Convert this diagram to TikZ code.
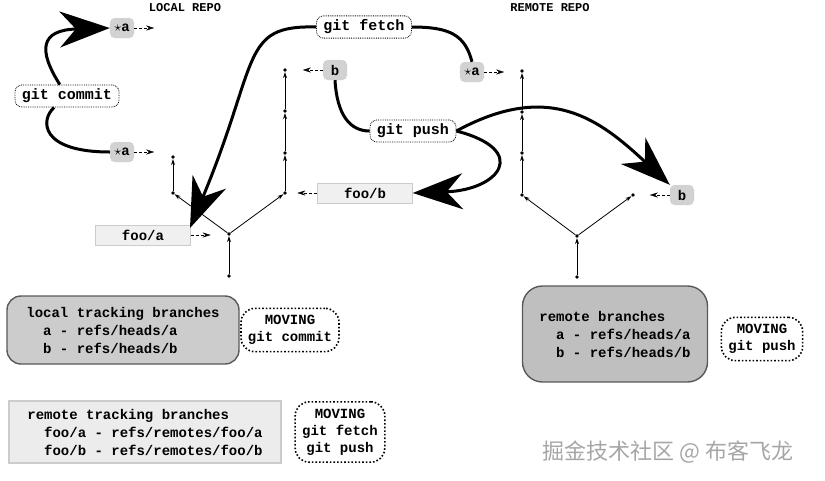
\documentclass[tikz,border=0pt]{standalone}
\usepackage{fontspec}
\setmonofont{Liberation Mono}
\newfontfamily\cjk{Noto Sans CJK SC}
\usetikzlibrary{arrows.meta}

\begin{document}
\begin{tikzpicture}[x=1pt,y=-1pt,
  dot/.style={circle, fill=black, inner sep=1.3pt},
  edge/.style={-{Stealth[length=6pt,width=4pt]}, thick},
  ptr/.style={-{Stealth[length=8pt,width=5pt]}, densely dashed},
  ref/.style={rounded corners=5pt, fill=gray!35, draw=gray!50, densely dotted, font=\ttfamily\bfseries\fontsize{14}{16}\selectfont, minimum height=20pt, minimum width=24pt},
  rem/.style={fill=gray!12, draw=gray!40, font=\ttfamily\bfseries\fontsize{14}{16}\selectfont, minimum height=20pt, minimum width=95pt},
  cmd/.style={rounded corners=7pt, draw, densely dotted, thick, fill=white, font=\ttfamily\bfseries\fontsize{15}{17}\selectfont, inner xsep=7pt, inner ysep=4pt},
  move/.style={rounded corners=14pt, draw, dotted, line width=1.6pt, font=\ttfamily\bfseries\fontsize{14}{17}\selectfont, align=center, inner sep=7pt},
  info/.style={font=\ttfamily\bfseries\fontsize{14}{18}\selectfont, align=left, inner sep=8pt},
  big/.style={line width=3pt, -{Stealth[length=50pt,width=36pt,inset=16pt]}},
  thk/.style={line width=3pt}]

\useasboundingbox (0,0) rectangle (825,480);

% Titles
\node[font=\ttfamily\bfseries\fontsize{12}{14}\selectfont] (ltitle) at (185,8) {LOCAL REPO};
\node[font=\ttfamily\bfseries\fontsize{12}{14}\selectfont] (rtitle) at (550,8) {REMOTE REPO};

% Local commit graph
\foreach \n/\p in {l0/{(229,276)}, l1/{(229,234)}, la1/{(173,193)}, la2/{(173,157)},
                   lb1/{(285,193)}, lb2/{(285,153)}, lb3/{(285,111)}, lb4/{(285,70)}}
  \node[dot] (\n) at \p {};
\foreach \a/\b in {l0/l1, l1/la1, la1/la2, l1/lb1, lb1/lb2, lb2/lb3, lb3/lb4}
  \draw[edge] (\a) -- (\b);

% Remote commit graph
\foreach \n/\p in {r0/{(577,277)}, r1/{(577,236)}, ra1/{(522,195)}, ra2/{(522,153)},
                   ra3/{(522,112)}, ra4/{(522,71)}, rb1/{(633,195)}}
  \node[dot] (\n) at \p {};
\foreach \a/\b in {r0/r1, r1/ra1, ra1/ra2, ra2/ra3, ra3/ra4, r1/rb1}
  \draw[edge] (\a) -- (\b);

% Refs
\node[ref] (atop) at (122,28) {$\star$a};
\node[ref] (alow) at (122,152) {$\star$a};
\node[ref] (lb) at (335,70) {b};
\node[rem] (foob) at (365,193) {foo/b};
\node[rem] (fooa) at (143,235) {foo/a};
\node[ref] (ra) at (472,72) {$\star$a};
\node[ref] (rb) at (682,195) {b};

\draw[ptr] (atop.east) -- ++(20,0);
\draw[ptr] (alow.east) -- ++(20,0);
\draw[ptr] (lb.west) -- ++(-20,0);
\draw[ptr] (foob.west) -- ++(-20,0);
\draw[ptr] (fooa.east) -- ++(20,0);
\draw[ptr] (ra.east) -- ++(20,0);
\draw[ptr] (rb.west) -- ++(-20,0);

% Commands
\node[cmd] (commit) at (67,96) {git commit};
\node[cmd] (fetch) at (364,27) {git fetch};
\node[cmd] (push) at (413,131) {git push};

\draw[thk] (alow.west) .. controls (40,152) and (40,120) .. (commit);
\draw[big] (commit) .. controls (38,50) and (40,30) .. (atop.west);
\draw[thk] (ra.north) .. controls (465,35) and (450,27) .. (fetch.east);
\draw[big] (fetch.west) .. controls (240,25) and (260,60) .. (190,228);
\draw[thk] (lb.south) .. controls (337,115) and (350,131) .. (push.west);
\draw[big] (push.east) .. controls (550,80) and (600,120) .. (rb.north west);
\draw[big] (push.east) .. controls (530,150) and (500,190) .. (foob.east);

% Ref kinds
\node[info, rounded corners=14pt, fill=gray!40, draw=gray!70!black, line width=1.4pt,
      minimum width=232pt, minimum height=68pt] (ltb) at (123,330)
  {local tracking branches\\\ \ a - refs/heads/a\\\ \ b - refs/heads/b};
\node[move] (mcommit) at (290,330) {MOVING\\git commit};
\node[info, fill=gray!15, draw=gray!40, line width=1.4pt,
      minimum width=272pt, minimum height=62pt] (rtb) at (145,432)
  {remote tracking branches\\\ \ foo/a - refs/remotes/foo/a\\\ \ foo/b - refs/remotes/foo/b};
\node[move] (mfetch) at (340,432) {MOVING\\git fetch\\git push};
\node[info, rounded corners=20pt, fill=gray!50, draw=gray!70!black, line width=1.4pt,
      minimum width=185pt, minimum height=96pt] (rbr) at (615,334)
  {remote branches\\\ \ a - refs/heads/a\\\ \ b - refs/heads/b};
\node[move] (mpush) at (762,339) {MOVING\\git push};

% Watermark
\node[font=\cjk\fontsize{22}{24}\selectfont, text=gray!70] (mark) at (668,452) {掘金技术社区 @ 布客飞龙};
\end{tikzpicture}
\end{document}
